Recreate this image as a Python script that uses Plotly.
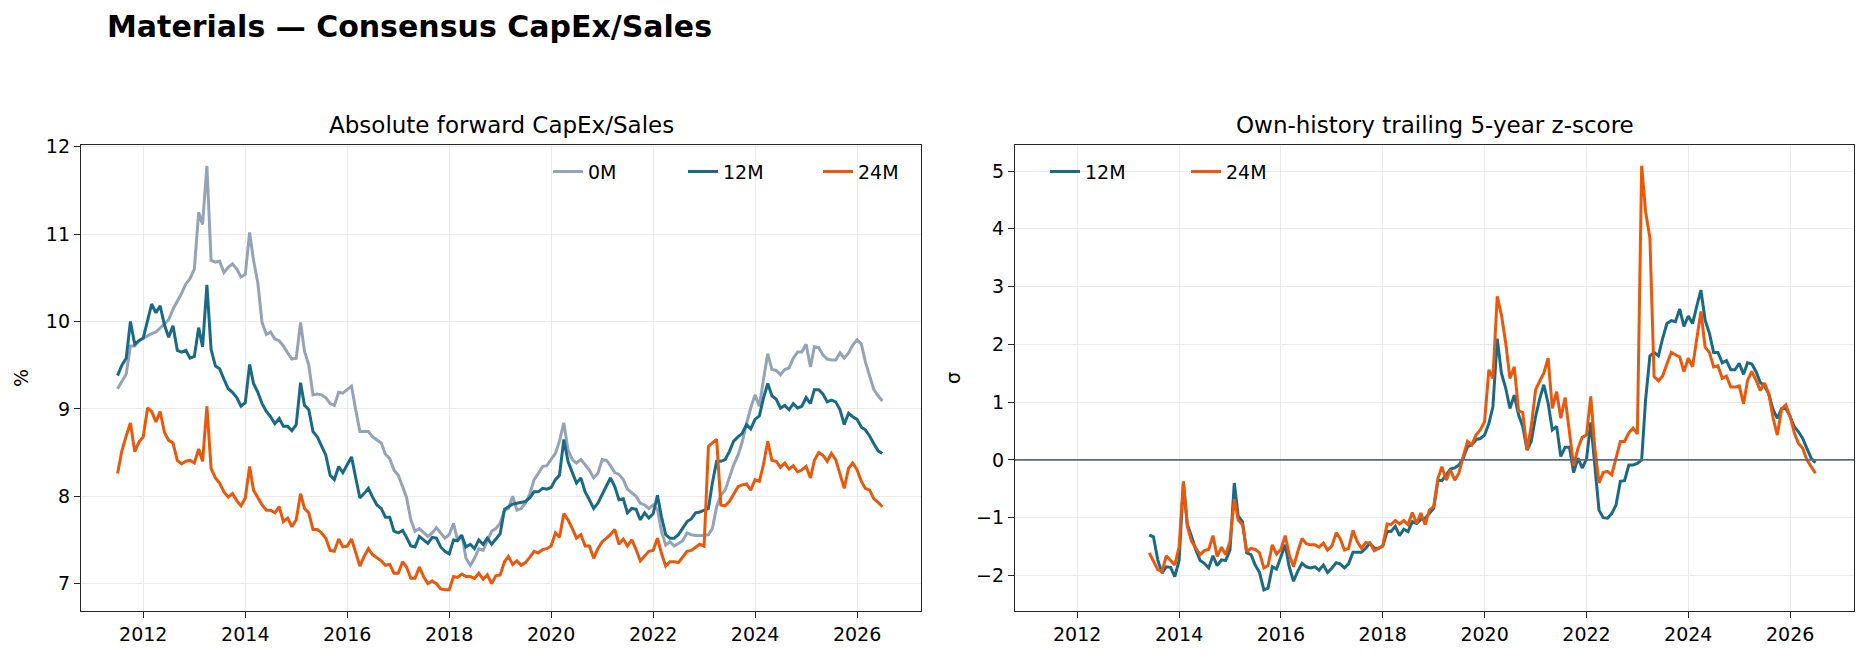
import pandas as pd
import plotly.graph_objects as go

# ---------------- data (monthly, Jul-2011 .. Jul-2026) ----------------
dates = pd.date_range("2011-07-01", periods=181, freq="MS")
z_start = 23  # z-score series begin Jun-2013

capex_0m = [
    9.23, 9.31, 9.40, 9.72, 9.72, 9.78, 9.81, 9.84, 9.86, 9.88, 9.93, 9.97,
    10.02, 10.14, 10.23, 10.32, 10.43, 10.49, 10.60, 11.25, 11.11, 11.78, 10.70, 10.68,
    10.69, 10.56, 10.62, 10.66, 10.60, 10.51, 10.54, 11.02, 10.70, 10.44, 9.99, 9.85,
    9.88, 9.80, 9.78, 9.72, 9.64, 9.57, 9.58, 9.99, 9.66, 9.50, 9.16, 9.17,
    9.16, 9.13, 9.06, 9.04, 9.19, 9.18, 9.22, 9.26, 9.00, 8.74, 8.74, 8.74,
    8.68, 8.65, 8.61, 8.48, 8.43, 8.30, 8.24, 8.11, 7.99, 7.73, 7.60, 7.63,
    7.58, 7.54, 7.58, 7.64, 7.58, 7.52, 7.56, 7.69, 7.50, 7.56, 7.29, 7.21,
    7.29, 7.40, 7.38, 7.48, 7.60, 7.63, 7.69, 7.84, 7.86, 8.00, 7.84, 7.86,
    7.92, 8.02, 8.19, 8.26, 8.34, 8.35, 8.42, 8.49, 8.63, 8.84, 8.53, 8.42,
    8.38, 8.42, 8.36, 8.30, 8.21, 8.26, 8.42, 8.41, 8.35, 8.27, 8.25, 8.19,
    8.08, 8.04, 8.00, 7.92, 7.90, 7.86, 7.90, 7.85, 7.60, 7.44, 7.48, 7.43,
    7.46, 7.49, 7.58, 7.56, 7.55, 7.55, 7.55, 7.56, 7.63, 7.88, 8.01, 8.07,
    8.22, 8.36, 8.47, 8.62, 8.83, 9.01, 9.16, 9.03, 9.33, 9.63, 9.45, 9.44,
    9.39, 9.45, 9.47, 9.58, 9.65, 9.65, 9.74, 9.48, 9.71, 9.70, 9.62, 9.57,
    9.56, 9.56, 9.64, 9.58, 9.64, 9.73, 9.79, 9.74, 9.54, 9.39, 9.22, 9.15,
    9.09,
]

capex_12m = [
    9.38, 9.50, 9.58, 10.00, 9.74, 9.78, 9.81, 10.02, 10.20, 10.10, 10.18, 9.96,
    9.82, 9.95, 9.67, 9.65, 9.67, 9.58, 9.60, 9.93, 9.71, 10.42, 9.68, 9.49,
    9.46, 9.34, 9.23, 9.19, 9.13, 9.03, 9.07, 9.51, 9.29, 9.19, 9.06, 8.97,
    8.91, 8.83, 8.89, 8.80, 8.80, 8.75, 8.82, 9.30, 9.04, 8.99, 8.74, 8.68,
    8.58, 8.47, 8.24, 8.19, 8.34, 8.27, 8.36, 8.45, 8.22, 7.98, 8.03, 8.09,
    7.99, 7.90, 7.86, 7.76, 7.76, 7.60, 7.58, 7.61, 7.53, 7.43, 7.42, 7.54,
    7.50, 7.46, 7.53, 7.52, 7.42, 7.37, 7.34, 7.50, 7.49, 7.55, 7.42, 7.45,
    7.40, 7.50, 7.45, 7.52, 7.45, 7.51, 7.57, 7.85, 7.88, 7.91, 7.92, 7.93,
    7.94, 7.98, 8.05, 8.05, 8.09, 8.08, 8.10, 8.19, 8.24, 8.65, 8.40, 8.27,
    8.15, 8.21, 8.05, 7.96, 7.86, 7.92, 8.03, 8.12, 8.21, 8.11, 7.96, 7.97,
    7.81, 7.86, 7.85, 7.73, 7.81, 7.75, 7.80, 8.01, 7.77, 7.56, 7.52, 7.52,
    7.56, 7.63, 7.71, 7.74, 7.81, 7.82, 7.84, 7.86, 8.15, 8.40, 8.40, 8.42,
    8.51, 8.63, 8.68, 8.72, 8.82, 8.77, 8.88, 8.92, 9.12, 9.29, 9.15, 9.11,
    9.01, 9.04, 8.99, 9.06, 9.01, 9.03, 9.13, 9.06, 9.22, 9.22, 9.17, 9.08,
    9.10, 9.08, 8.99, 8.82, 8.95, 8.91, 8.88, 8.79, 8.76, 8.69, 8.60, 8.52,
    8.49,
]

capex_24m = [
    8.26, 8.52, 8.69, 8.84, 8.51, 8.62, 8.68, 9.01, 8.97, 8.85, 8.97, 8.73,
    8.64, 8.61, 8.41, 8.37, 8.40, 8.41, 8.38, 8.54, 8.40, 9.03, 8.32, 8.21,
    8.15, 8.05, 7.99, 8.03, 7.95, 7.89, 7.98, 8.34, 8.07, 7.98, 7.90, 7.84,
    7.84, 7.81, 7.88, 7.71, 7.75, 7.65, 7.73, 8.03, 7.86, 7.81, 7.62, 7.62,
    7.58, 7.52, 7.38, 7.37, 7.51, 7.42, 7.43, 7.51, 7.35, 7.20, 7.31, 7.40,
    7.33, 7.29, 7.26, 7.21, 7.22, 7.12, 7.12, 7.25, 7.19, 7.06, 7.06, 7.19,
    7.08, 7.00, 7.03, 7.00, 6.94, 6.93, 6.93, 7.08, 7.07, 7.11, 7.08, 7.08,
    7.06, 7.12, 7.05, 7.10, 7.00, 7.09, 7.10, 7.25, 7.31, 7.22, 7.26, 7.21,
    7.24, 7.30, 7.37, 7.35, 7.39, 7.40, 7.43, 7.58, 7.53, 7.80, 7.73, 7.63,
    7.52, 7.56, 7.43, 7.43, 7.29, 7.40, 7.48, 7.52, 7.56, 7.62, 7.45, 7.51,
    7.43, 7.50, 7.39, 7.26, 7.31, 7.37, 7.38, 7.52, 7.35, 7.20, 7.25, 7.25,
    7.24, 7.31, 7.37, 7.38, 7.42, 7.45, 7.43, 8.57, 8.61, 8.65, 7.90, 7.89,
    7.94, 8.03, 8.11, 8.13, 8.14, 8.07, 8.19, 8.17, 8.36, 8.63, 8.41, 8.40,
    8.33, 8.38, 8.31, 8.35, 8.28, 8.30, 8.34, 8.21, 8.41, 8.50, 8.47, 8.40,
    8.49, 8.42, 8.25, 8.09, 8.32, 8.38, 8.30, 8.17, 8.09, 8.07, 7.97, 7.93,
    7.88,
]

z_12m = [
    -1.30, -1.33, -1.73, -1.96, -1.85, -1.86, -2.02, -1.74, -0.40, -1.12, -1.33, -1.56,
    -1.74, -1.79, -1.87, -1.66, -1.83, -1.73, -1.74, -1.56, -0.40, -0.97, -1.07, -1.61,
    -1.64, -1.82, -1.95, -2.25, -2.22, -1.85, -1.89, -1.66, -1.47, -1.85, -2.10, -1.93,
    -1.79, -1.85, -1.87, -1.85, -1.91, -1.82, -1.95, -1.87, -1.78, -1.80, -1.87, -1.80,
    -1.60, -1.60, -1.60, -1.53, -1.44, -1.53, -1.53, -1.49, -1.24, -1.24, -1.15, -1.31,
    -1.20, -1.24, -1.07, -1.10, -1.03, -1.01, -0.92, -0.84, -0.35, -0.36, -0.26, -0.16,
    -0.14, -0.09, 0.03, 0.23, 0.26, 0.35, 0.37, 0.43, 0.63, 0.92, 2.10, 1.50,
    1.24, 0.89, 1.12, 0.78, 0.58, 0.17, 0.32, 0.75, 1.07, 1.30, 0.98, 0.52,
    0.58, 0.06, 0.22, 0.22, -0.22, 0.03, -0.14, 0.01, 0.65, -0.10, -0.87, -1.00,
    -1.01, -0.93, -0.78, -0.37, -0.36, -0.09, -0.09, -0.06, 0.00, 1.04, 1.80, 1.86,
    1.80, 2.10, 2.36, 2.41, 2.39, 2.61, 2.31, 2.49, 2.36, 2.65, 2.94, 2.42,
    2.19, 1.86, 1.86, 1.68, 1.72, 1.56, 1.56, 1.67, 1.48, 1.68, 1.66, 1.53,
    1.34, 1.28, 1.14, 0.87, 0.72, 0.89, 0.89, 0.75, 0.57, 0.49, 0.37, 0.20,
    0.03, -0.05,
]

z_24m = [
    -1.61, -1.76, -1.90, -1.93, -1.66, -1.74, -1.82, -1.51, -0.37, -1.15, -1.41, -1.53,
    -1.64, -1.57, -1.55, -1.31, -1.67, -1.51, -1.64, -1.41, -0.68, -1.04, -1.12, -1.59,
    -1.53, -1.55, -1.61, -1.87, -1.83, -1.47, -1.63, -1.55, -1.31, -1.64, -1.85, -1.59,
    -1.36, -1.45, -1.47, -1.47, -1.51, -1.44, -1.56, -1.49, -1.26, -1.36, -1.56, -1.53,
    -1.22, -1.41, -1.53, -1.43, -1.44, -1.57, -1.53, -1.49, -1.11, -1.12, -1.05, -1.11,
    -1.05, -1.12, -0.91, -1.10, -0.92, -1.12, -0.87, -0.81, -0.32, -0.12, -0.35, -0.17,
    -0.35, -0.23, 0.06, 0.32, 0.26, 0.43, 0.52, 0.66, 1.56, 1.41, 2.83, 2.51,
    2.02, 1.41, 1.61, 0.85, 0.82, 0.17, 0.58, 1.21, 1.37, 1.50, 1.76, 0.89,
    1.18, 0.72, 1.08, 0.43, -0.10, 0.20, 0.39, 0.43, 1.10, 0.23, -0.40, -0.22,
    -0.20, -0.26, 0.03, 0.32, 0.32, 0.47, 0.55, 0.45, 5.09, 4.30, 3.84, 1.44,
    1.37, 1.45, 1.66, 1.86, 1.82, 1.78, 1.53, 1.76, 1.61, 2.08, 2.57, 1.95,
    1.86, 1.61, 1.63, 1.41, 1.45, 1.26, 1.26, 1.28, 0.97, 1.37, 1.53, 1.38,
    1.20, 1.33, 1.14, 0.72, 0.43, 0.88, 0.95, 0.75, 0.46, 0.29, 0.20, 0.00,
    -0.12, -0.23,
]

year_ticks = [2012, 2014, 2016, 2018, 2020, 2022, 2024, 2026]
abs_ticks = [7, 8, 9, 10, 11, 12]
z_ticks = [-2, -1, 0, 1, 2, 3, 4, 5]

# ---------------- styling ----------------
W, H = 1869, 659
C_0M = "#94a3b8"
C_12M = "#1a6a86"
C_24M = "#ea580c"
C_ZERO = "#5b6b80"
AX = "#262626"
GRID = "#ebebeb"
FONT = "DejaVu Sans"
TICK_FS = 19

def px_x(p):
    return p / W

def px_y(p):
    return (H - p) / H

L_DOM = [px_x(81), px_x(921)]
R_DOM = [px_x(1015), px_x(1854)]
Y_DOM = [px_y(610.7), px_y(145)]

fig = go.Figure()
for name, ys, col in [("0M", capex_0m, C_0M), ("12M", capex_12m, C_12M), ("24M", capex_24m, C_24M)]:
    fig.add_trace(go.Scatter(x=dates, y=ys, mode="lines", name=name,
                             line=dict(color=col, width=3),
                             xaxis="x", yaxis="y", legend="legend"))
zd = dates[z_start:]
for name, ys, col in [("12M", z_12m, C_12M), ("24M", z_24m, C_24M)]:
    fig.add_trace(go.Scatter(x=zd, y=ys, mode="lines", name=name,
                             line=dict(color=col, width=3),
                             xaxis="x2", yaxis="y2", legend="legend2"))

xcommon = dict(
    type="date", range=["2010-10-12", "2027-04-04"],
    tickvals=[f"{y}-01-01" for y in year_ticks], ticktext=[str(y) for y in year_ticks],
    showline=True, mirror=True, linecolor=AX, linewidth=1.3,
    ticks="outside", ticklen=6, tickwidth=1.3, tickcolor=AX,
    showgrid=True, gridcolor=GRID, gridwidth=1, zeroline=False,
    tickfont=dict(family=FONT, size=TICK_FS, color="#000"),
)
ycommon = dict(
    showline=True, mirror=True, linecolor=AX, linewidth=1.3,
    ticks="outside", ticklen=6, tickwidth=1.3, tickcolor=AX,
    showgrid=True, gridcolor=GRID, gridwidth=1, zeroline=False,
    tickfont=dict(family=FONT, size=TICK_FS, color="#000"),
)

fig.update_layout(
    width=W, height=H,
    margin=dict(l=0, r=0, t=0, b=0, pad=0, autoexpand=False),
    paper_bgcolor="white", plot_bgcolor="white",
    font=dict(family=FONT, color="#000"),
    showlegend=True,
    xaxis=dict(domain=L_DOM, anchor="y", **xcommon),
    yaxis=dict(domain=Y_DOM, anchor="x", range=[6.69, 12.02], tickvals=abs_ticks, **ycommon),
    xaxis2=dict(domain=R_DOM, anchor="y2", **xcommon),
    yaxis2=dict(domain=Y_DOM, anchor="x2", range=[-2.61, 5.45], tickvals=z_ticks, **ycommon),
    legend=dict(orientation="h", x=px_x(548), xanchor="left", y=px_y(171.7), yanchor="middle",
                bgcolor="rgba(0,0,0,0)", font=dict(family=FONT, size=TICK_FS, color="#000"),
                entrywidth=90, entrywidthmode="pixels", traceorder="normal"),
    legend2=dict(orientation="h", x=px_x(1045), xanchor="left", y=px_y(171.7), yanchor="middle",
                 bgcolor="rgba(0,0,0,0)", font=dict(family=FONT, size=TICK_FS, color="#000"),
                 entrywidth=96, entrywidthmode="pixels", traceorder="normal"),
)

# horizontal zero reference across the whole z-score panel (drawn on top, like axhline)
fig.add_shape(type="line", xref="x2 domain", x0=0, x1=1, yref="y2", y0=0, y1=0,
              line=dict(color=C_ZERO, width=1.6), layer="above")

# main title
fig.add_annotation(text="<b>Materials — Consensus CapEx/Sales</b>", x=px_x(105), y=px_y(27),
                   xref="paper", yref="paper", xanchor="left", yanchor="middle",
                   showarrow=False, font=dict(family=FONT, size=30, color="#000"))

annos = [
    dict(text="Absolute forward CapEx/Sales", x=(L_DOM[0] + L_DOM[1]) / 2, y=px_y(125)),
    dict(text="Own-history trailing 5-year z-score", x=(R_DOM[0] + R_DOM[1]) / 2, y=px_y(125)),
]
for a in annos:
    fig.add_annotation(text=a["text"], x=a["x"], y=a["y"], xref="paper", yref="paper",
                       xanchor="center", yanchor="middle", showarrow=False,
                       font=dict(family=FONT, size=23, color="#000"))
for txt, xp in [("%", 21), ("σ", 953)]:
    fig.add_annotation(text=txt, x=px_x(xp), y=px_y(378), xref="paper", yref="paper",
                       xanchor="center", yanchor="middle", showarrow=False, textangle=-90,
                       font=dict(family=FONT, size=TICK_FS, color="#000"))

fig.write_html("out.html")
